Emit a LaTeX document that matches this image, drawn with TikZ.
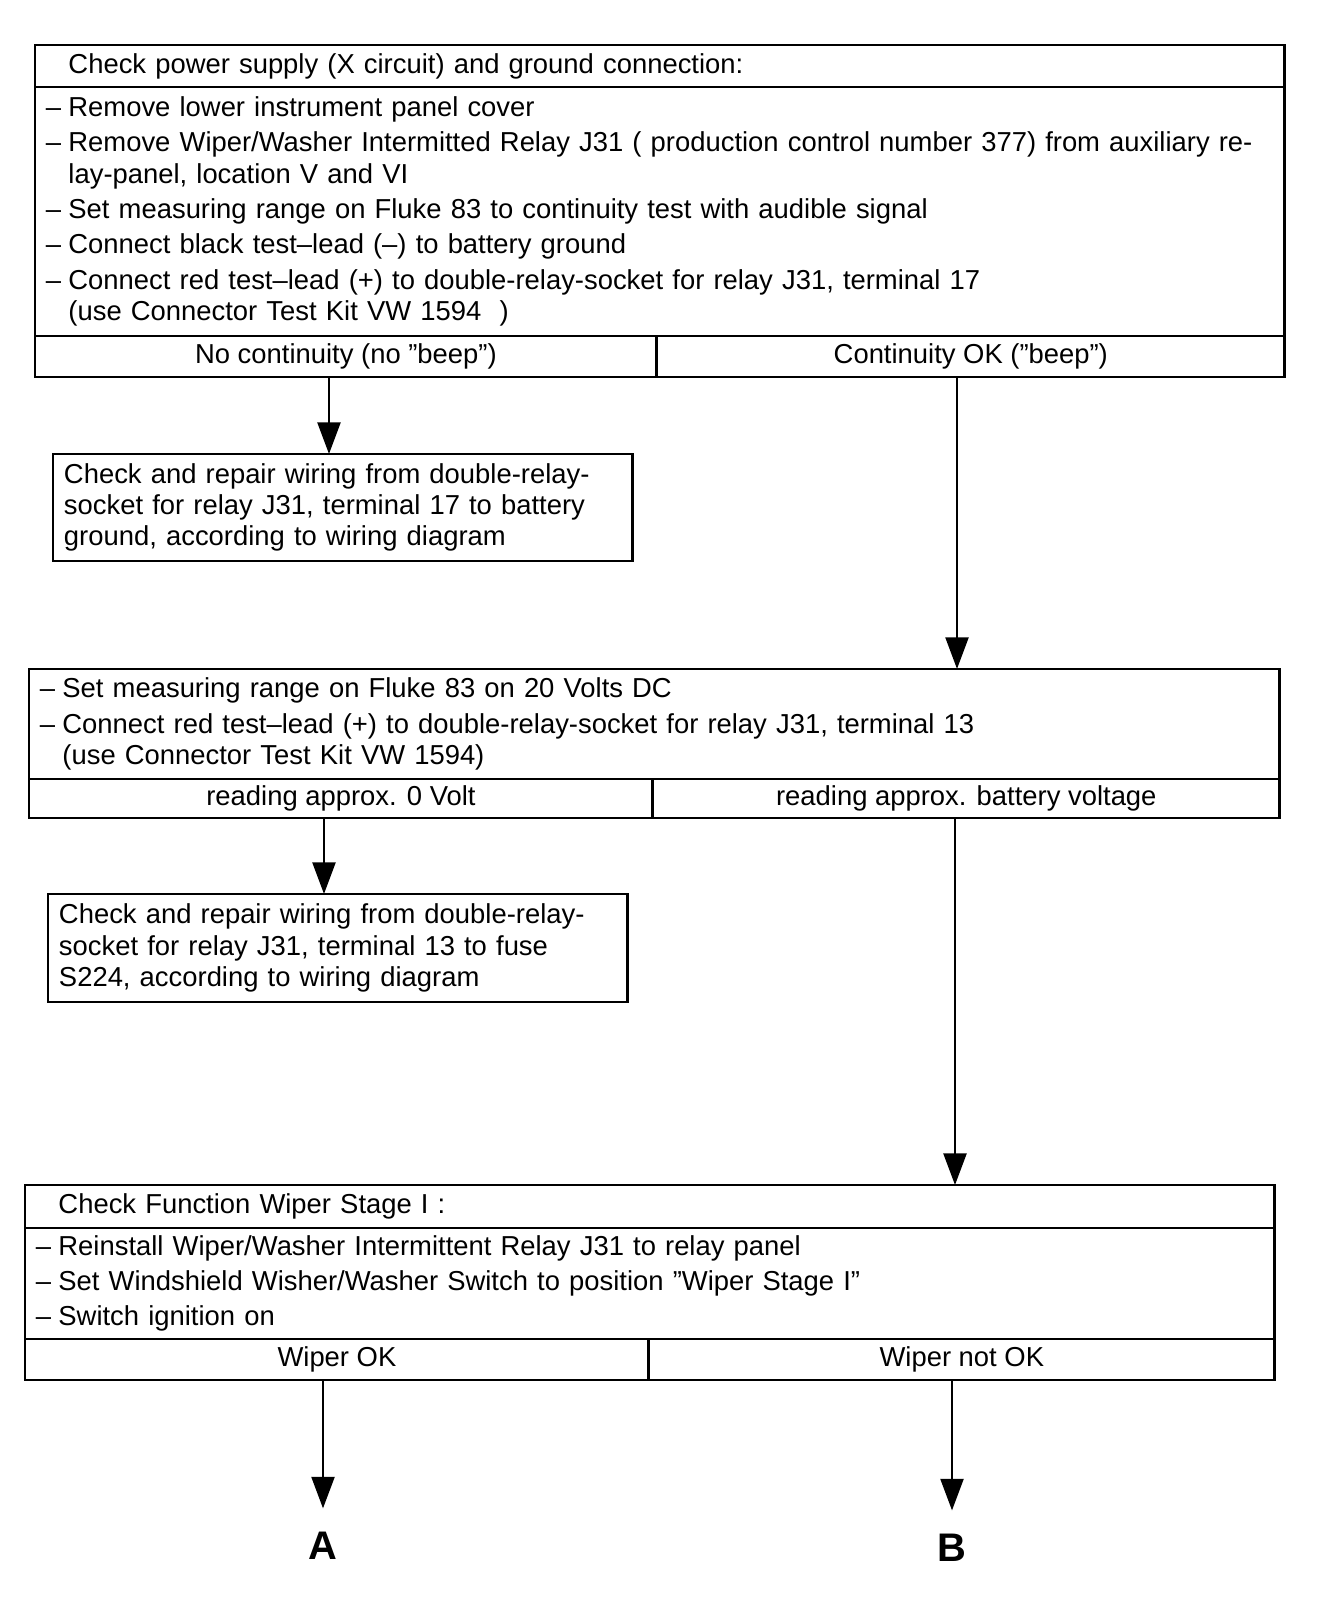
\documentclass[tikz,border=0pt]{standalone}
\usepackage{fontspec}
\setmainfont{Liberation Sans}
\usetikzlibrary{arrows.meta, positioning}

\newcommand{\stepdash}{\makebox[0.82em][l]{--}}
\newcommand{\stepindent}{\hspace*{0.82em}}

\begin{document}
\begin{tikzpicture}[
      x=0.02cm, y=-0.02cm,
      every node/.style={font=\fontsize{15.6}{17.8}\selectfont},
      frame/.style={draw, line width=1.6pt, anchor=north west, outer sep=0pt, inner xsep=0.22cm, inner ysep=0pt, align=left},
      head/.style={frame, inner xsep=0.67cm},
      cell/.style={draw, line width=1.6pt, anchor=north west, outer sep=0pt, inner sep=0pt, align=center},
      flow/.style={-{Triangle[length=18pt, width=13pt]}, line width=1.6pt},
      exit/.style={font=\fontsize{22.7}{24}\bfseries\selectfont, inner sep=0.47cm},
    ]
    \useasboundingbox (0,0) rectangle (1344,1608);

    % Check 1: power supply and ground
    \node[head, minimum width=25cm, minimum height=0.84cm, text width=23.66cm] (check1) at (35,45)
      {Check power supply (X circuit) and ground connection:};
    \node[frame, minimum width=25cm, minimum height=4.98cm, text width=24.56cm] (steps1) at (check1.south west)
      {\stepdash Remove lower instrument panel cover\\[2.3pt]
       \stepdash Remove Wiper/Washer Intermitted Relay J31 ( production control number 377) from auxiliary re-\\
       \stepindent lay-panel, location V and VI\\[2.3pt]
       \stepdash Set measuring range on Fluke 83 to continuity test with audible signal\\[2.3pt]
       \stepdash Connect black test--lead (--) to battery ground\\[2.3pt]
       \stepdash Connect red test--lead (+) to double-relay-socket for relay J31, terminal 17\\
       \stepindent (use Connector Test Kit VW 1594~~)};
    \node[cell, minimum width=12.44cm, minimum height=0.82cm] (nobeep) at (steps1.south west) {No continuity (no ''beep'')};
    \node[cell, minimum width=12.56cm, minimum height=0.82cm] (beep) at (nobeep.north east) {Continuity OK (''beep'')};

    \node[frame, minimum width=11.6cm, minimum height=2.14cm, text width=11.16cm] (repair1) at (53,454)
      {Check and repair wiring from double-relay-\\
       socket for relay J31, terminal 17 to battery\\
       ground, according to wiring diagram};

    % Check 2: voltage at terminal 13
    \node[frame, minimum width=25.02cm, minimum height=2.2cm, text width=24.58cm] (steps2) at (29,669)
      {\stepdash Set measuring range on Fluke 83 on 20 Volts DC\\[2.3pt]
       \stepdash Connect red test--lead (+) to double-relay-socket for relay J31, terminal 13\\
       \stepindent (use Connector Test Kit VW 1594)};
    \node[cell, minimum width=12.48cm, minimum height=0.78cm] (zerovolt) at (steps2.south west) {reading approx. 0 Volt};
    \node[cell, minimum width=12.54cm, minimum height=0.78cm] (battvolt) at (zerovolt.north east) {reading approx. battery voltage};

    \node[frame, minimum width=11.6cm, minimum height=2.16cm, text width=11.16cm] (repair2) at (48,894)
      {Check and repair wiring from double-relay-\\
       socket for relay J31, terminal 13 to fuse\\
       S224, according to wiring diagram};

    % Check 3: wiper stage I
    \node[head, minimum width=25cm, minimum height=0.86cm, text width=23.66cm] (check2) at (25,1185)
      {Check Function Wiper Stage I :};
    \node[frame, minimum width=25cm, minimum height=2.22cm, text width=24.56cm] (steps3) at (check2.south west)
      {\stepdash Reinstall Wiper/Washer Intermittent Relay J31 to relay panel\\[2.3pt]
       \stepdash Set Windshield Wisher/Washer Switch to position ''Wiper Stage I''\\[2.3pt]
       \stepdash Switch ignition on};
    \node[cell, minimum width=12.48cm, minimum height=0.82cm] (wiperok) at (steps3.south west) {Wiper OK};
    \node[cell, minimum width=12.52cm, minimum height=0.82cm] (wipernok) at (wiperok.north east) {Wiper not OK};

    \node[exit] (exitA) at (323,1546) {A};
    \node[exit] (exitB) at (952,1548) {B};

    % arrow columns
    \coordinate (col1) at (329,0);
    \coordinate (col2) at (957,0);
    \coordinate (col3) at (324,0);
    \coordinate (col4) at (955,0);

    \draw[flow] (nobeep.south -| col1) -- (repair1.north -| col1);
    \draw[flow] (beep.south -| col2) -- (steps2.north -| col2);
    \draw[flow] (zerovolt.south -| col3) -- (repair2.north -| col3);
    \draw[flow] (battvolt.south -| col4) -- (check2.north -| col4);
    \draw[flow] (wiperok.south -| exitA.north) -- (exitA.north);
    \draw[flow] (wipernok.south -| exitB.north) -- (exitB.north);
  \end{tikzpicture}
\end{document}
